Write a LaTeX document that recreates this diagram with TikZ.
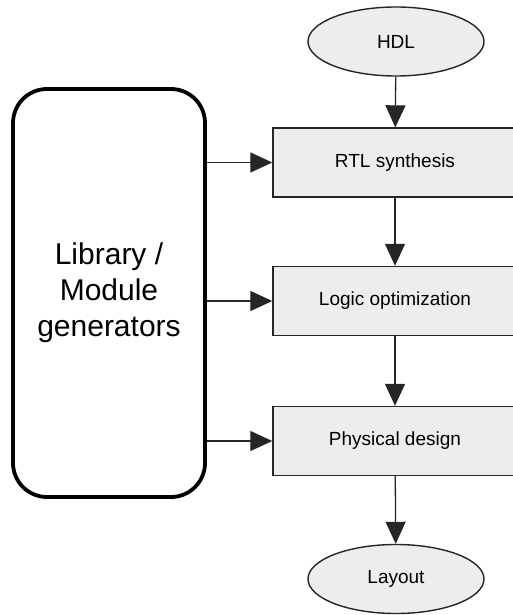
\documentclass[tikz,border=0pt]{standalone}
\usepackage{fontspec}
\setmainfont{Liberation Sans}
\usetikzlibrary{arrows.meta,shapes.geometric}
\definecolor{stepfill}{HTML}{EDEDED}
\tikzset{
  flowbox/.style={draw=black!85, line width=1.4pt, fill=stepfill, rectangle,
    minimum width=244pt, minimum height=69pt, inner sep=0pt,
    font=\fontsize{19}{22}\selectfont},
  terminal/.style={draw=black!85, line width=1.4pt, fill=stepfill, ellipse,
    minimum width=176pt, minimum height=69pt, inner sep=0pt,
    font=\fontsize{19}{22}\selectfont},
  genbox/.style={draw=black, line width=3.8pt, fill=white, rectangle,
    rounded corners=34pt, minimum width=192pt, minimum height=408pt,
    inner sep=0pt, align=center, font=\fontsize{30}{36}\selectfont},
  flow/.style={draw=black!85, line width=1.3pt,
    -{Triangle[length=22pt, width=20pt]}},
}
\begin{document}
\begin{tikzpicture}[x=1pt, y=-1pt]
  \useasboundingbox (0,0) rectangle (513,615);
  \clip (0,0) rectangle (513,615);

  % design flow, top to bottom
  \node[terminal] (hdl) at (396,41.5) {HDL};
  \node[flowbox] (rtl) at (395,162.5) {RTL synthesis};
  \node[flowbox] (logic) at (395,301) {Logic optimization};
  \node[flowbox] (phys) at (395,441) {Physical design};
  \node[terminal] (layout) at (396,579) {Layout};

  % generators feeding every step
  \node[genbox] (gen) at (109,293) {Library /\\Module\\generators};

  \draw[flow] (hdl) -- (rtl);
  \draw[flow] (rtl) -- (logic);
  \draw[flow] (logic) -- (phys);
  \draw[flow] (phys) -- (layout);

  \draw[flow] (gen.east |- rtl.west) -- (rtl.west);
  \draw[flow] (gen.east |- logic.west) -- (logic.west);
  \draw[flow] (gen.east |- phys.west) -- (phys.west);
\end{tikzpicture}
\end{document}
